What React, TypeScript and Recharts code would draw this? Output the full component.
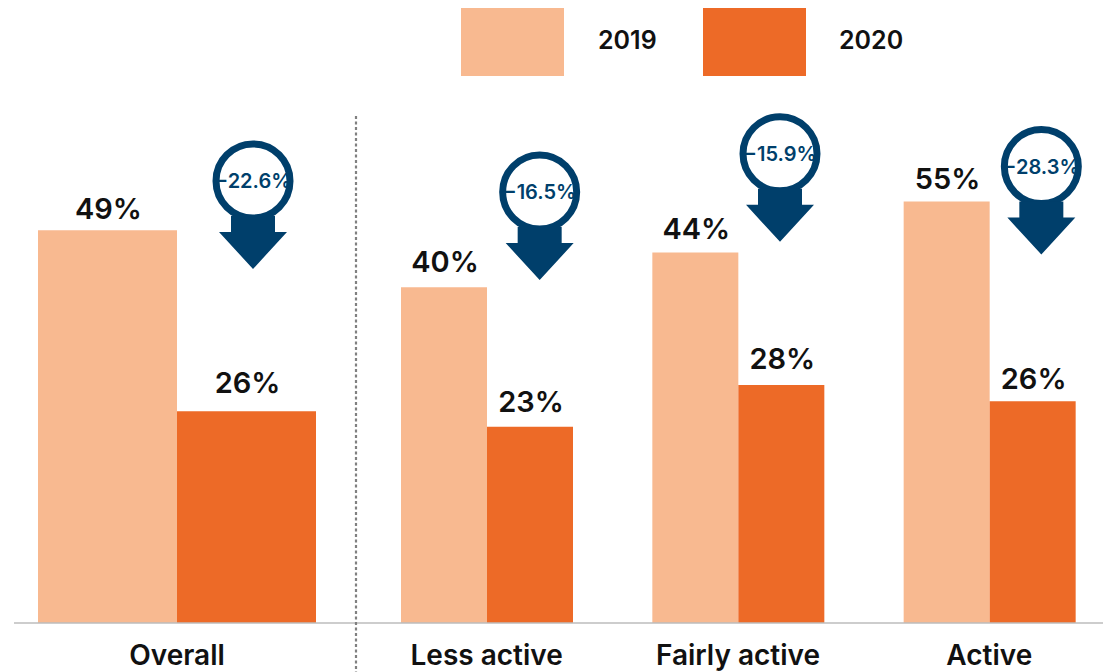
import { BarChart, Bar, XAxis, YAxis, LabelList, ReferenceDot } from "recharts";

const FONT = "Inter, 'Noto Sans', sans-serif";
const LIGHT = "#f8b990";
const DARK = "#ed6a27";
const NAVY = "#003f6b";

const years = ["2019", "2020"];

// bar heights as drawn in the picture (the artwork is not strictly to scale), printed labels kept apart
const overallCategories = ["Overall"];
const overall2019 = [46.2];
const overall2020 = [24.9];
const overallLabels2019 = ["49%"];
const overallLabels2020 = ["26%"];
const overallChange = ["−22.6%"];
const overallBadgeLevel = [52];

const groupCategories = ["Less active", "Fairly active", "Active"];
const group2019 = [39.5, 43.6, 49.6];
const group2020 = [23.1, 28, 26.1];
const groupLabels2019 = ["40%", "44%", "55%"];
const groupLabels2020 = ["23%", "28%", "26%"];
const groupChange = ["−16.5%", "−15.9%", "−28.3%"];
const groupBadgeLevel = [50.7, 55.2, 53.7];

const overallRows = overallCategories.map((name, i) => ({
  name,
  y2019: overall2019[i],
  y2020: overall2020[i],
  label2019: overallLabels2019[i],
  label2020: overallLabels2020[i],
}));

const groupRows = groupCategories.map((name, i) => ({
  name,
  y2019: group2019[i],
  y2020: group2020[i],
  label2019: groupLabels2019[i],
  label2020: groupLabels2020[i],
}));

const tickStyle = { fontFamily: FONT, fontSize: 28, fontWeight: 600, fill: "#111" };

function Badge({ cx, cy, dx, text }: any) {
  const x = cx + dx;
  return (
    <g>
      <circle cx={x} cy={cy} r={37} fill="#fff" stroke={NAVY} strokeWidth={7} />
      <path
        d={`M${x - 22} ${cy + 35} L${x + 22} ${cy + 35} L${x + 22} ${cy + 51} L${x + 34} ${cy + 51} L${x} ${cy + 88} L${x - 34} ${cy + 51} L${x - 22} ${cy + 51} Z`}
        fill={NAVY}
      />
      <text
        x={x}
        y={cy + 7}
        textAnchor="middle"
        fontFamily={FONT}
        fontSize={20}
        fontWeight={600}
        fill={NAVY}
      >
        {text}
      </text>
    </g>
  );
}

// the gap between bar and printed value varies in the artwork
function valueLabel(gaps: number[]) {
  return ({ x, y, width, value, index }: any) => (
    <text
      x={x + width / 2 + 1}
      y={y - gaps[index]}
      textAnchor="middle"
      fontFamily={FONT}
      fontSize={29}
      fontWeight={600}
      fill="#111"
    >
      {value}
    </text>
  );
}

function Panel({ rows, barSize, change, levels, offsets, gaps2019, gaps2020, width, padding, left }: any) {
  return (
    <div style={{ position: "absolute", left, top: 0 }}>
      <BarChart
        width={width}
        height={672}
        data={rows}
        barSize={barSize}
        barGap={0}
        margin={{ top: 113, right: 0, bottom: 0, left: padding.margin }}
      >
        <XAxis
          dataKey="name"
          axisLine={{ stroke: "#bdbdbd", strokeWidth: 1.5 }}
          tickLine={false}
          height={49}
          tickMargin={16}
          tick={tickStyle}
          interval={0}
          padding={{ left: padding.left, right: padding.right }}
        />
        <YAxis hide domain={[0, 60]} />
        <Bar dataKey="y2019" fill={LIGHT} isAnimationActive={false}>
          <LabelList dataKey="label2019" content={valueLabel(gaps2019)} />
        </Bar>
        <Bar dataKey="y2020" fill={DARK} isAnimationActive={false}>
          <LabelList dataKey="label2020" content={valueLabel(gaps2020)} />
        </Bar>
        {rows.map((row: any, i: number) => (
          <ReferenceDot
            key={row.name}
            x={row.name}
            y={levels[i]}
            ifOverflow="visible"
            shape={(p: any) => <Badge cx={p.cx} cy={p.cy} dx={offsets[i]} text={change[i]} />}
          />
        ))}
      </BarChart>
    </div>
  );
}

export default function App() {
  return (
    <div
      style={{
        position: "absolute",
        left: 0,
        top: 0,
        width: 1103,
        height: 672,
        overflow: "hidden",
        background: "#fff",
      }}
    >
      <Panel
        rows={overallRows}
        barSize={139}
        change={overallChange}
        levels={overallBadgeLevel}
        offsets={[76]}
        gaps2019={[11]}
        gaps2020={[18]}
        width={356}
        left={0}
        padding={{ margin: 14, left: 0, right: 16 }}
      />
      <Panel
        rows={groupRows}
        barSize={86}
        change={groupChange}
        levels={groupBadgeLevel}
        offsets={[53, 42, 52]}
        gaps2019={[15, 13, 12]}
        gaps2020={[15, 16, 12]}
        width={759}
        left={356}
        padding={{ margin: 0, left: 5, right: 0 }}
      />
      <svg
        width={4}
        height={672}
        style={{ position: "absolute", left: 354, top: 0 }}
      >
        <line x1={2} y1={116} x2={2} y2={672} stroke="#808080" strokeWidth={2.2} strokeDasharray="3 2.5" />
      </svg>
      {years.map((year, i) => (
        <div key={year}>
          <div
            style={{
              position: "absolute",
              left: 461 + i * 242,
              top: 8,
              width: 103,
              height: 68,
              background: i === 0 ? LIGHT : DARK,
            }}
          />
          <div
            style={{
              position: "absolute",
              left: 598 + i * 241,
              top: 24,
              fontFamily: FONT,
              fontSize: 25,
              fontWeight: 600,
              lineHeight: "32px",
              color: "#111",
            }}
          >
            {year}
          </div>
        </div>
      ))}
    </div>
  );
}
